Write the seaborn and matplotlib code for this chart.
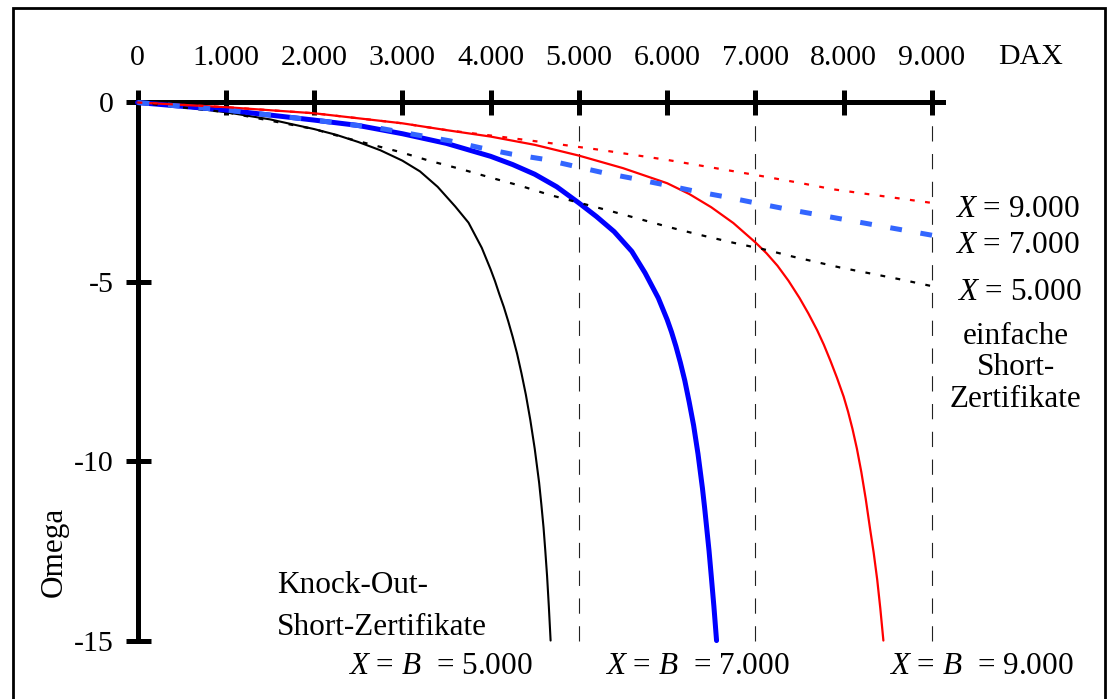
import numpy as np
import pandas as pd
import matplotlib
matplotlib.use("Agg")
import matplotlib.pyplot as plt
import seaborn as sns
from matplotlib.patches import Rectangle

# ---------------- data ----------------
# Knock-Out-Short-Zertifikate, X = B = 5.000 / 7.000 / 9.000
ko5_dax = [0, 500, 1000, 1500, 2000, 2250, 2500, 2750, 3000, 3200, 3400, 3600,
           3750, 3900, 4000, 4050, 4100, 4150, 4200, 4250, 4300, 4350, 4400,
           4450, 4500, 4550, 4575, 4600, 4620, 4640, 4660, 4680]
ko5_omega = [0, -0.12, -0.27, -0.47, -0.74, -0.90, -1.10, -1.33, -1.62, -1.92,
             -2.35, -2.90, -3.35, -4.05, -4.65, -4.98, -5.35, -5.70, -6.10,
             -6.53, -7.00, -7.55, -8.15, -8.85, -9.65, -10.6, -11.2, -11.85,
             -12.5, -13.2, -14.05, -15.0]

ko7_dax = [0, 1000, 2000, 2500, 3000, 3500, 4000, 4250, 4500, 4750, 5000, 5200,
           5400, 5600, 5750, 5900, 6000, 6050, 6100, 6150, 6200, 6250, 6300,
           6350, 6400, 6425, 6450, 6475, 6500, 6530, 6560]
ko7_omega = [0, -0.21, -0.49, -0.64, -0.87, -1.14, -1.50, -1.73, -2.00, -2.35,
             -2.80, -3.18, -3.60, -4.15, -4.75, -5.45, -6.05, -6.40, -6.80,
             -7.25, -7.75, -8.35, -9.00, -9.80, -10.75, -11.3, -11.9, -12.5,
             -13.2, -14.05, -15.0]

ko9_dax = [0, 1000, 2000, 3000, 3500, 4000, 4500, 5000, 5500, 6000, 6250, 6500,
           6750, 7000, 7125, 7250, 7375, 7500, 7600, 7700, 7775, 7850, 7925,
           8000, 8050, 8100, 8150, 8200, 8250, 8300, 8340, 8380, 8415, 8450]
ko9_omega = [0, -0.13, -0.30, -0.58, -0.77, -0.95, -1.18, -1.48, -1.83, -2.25,
             -2.55, -2.92, -3.36, -3.90, -4.20, -4.55, -4.97, -5.45, -5.88,
             -6.35, -6.75, -7.20, -7.68, -8.20, -8.62, -9.10, -9.65, -10.3,
             -11.05, -11.9, -12.55, -13.3, -14.1, -15.0]

# einfache Short-Zertifikate, X = 5.000 / 7.000 / 9.000
s5_dax = [0, 1000, 2000, 2300, 2975, 3315, 3655, 3995, 4335, 4675, 5350, 5690,
          6030, 6370, 6750, 7090, 7430, 7960, 8640, 9000]
s5_omega = [0, -0.27, -0.74, -0.95, -1.38, -1.63, -1.85, -2.09, -2.32, -2.58,
            -3.02, -3.25, -3.48, -3.69, -3.91, -4.09, -4.30, -4.60, -4.93, -5.12]

s7_dax = [0, 1000, 2000, 2750, 3540, 3880, 4240, 4600, 4940, 5280, 5620, 5980,
          6330, 6680, 7020, 7370, 9090]
s7_omega = [0, -0.21, -0.49, -0.72, -1.07, -1.26, -1.44, -1.58, -1.77, -1.96,
            -2.12, -2.30, -2.48, -2.64, -2.81, -2.98, -3.74]

s9_dax = [0, 1000, 2000, 3000, 3500, 4100, 4700, 5240, 6000, 7000, 7500, 7880, 9090]
s9_omega = [0, -0.13, -0.30, -0.58, -0.77, -0.95, -1.14, -1.32, -1.60, -2.02,
            -2.24, -2.42, -2.83]

dax_ticks = [0, 1000, 2000, 3000, 4000, 5000, 6000, 7000, 8000, 9000]
dax_labels = ["0", "1.000", "2.000", "3.000", "4.000", "5.000", "6.000",
              "7.000", "8.000", "9.000"]
omega_ticks = [0, -5, -10, -15]
omega_labels = ["0", "-5", "-10", "-15"]
strike_lines = [5000, 7000, 9000]

# ---------------- style ----------------
sns.set_theme(style="white")
plt.rcParams["font.family"] = ["Liberation Serif", "DejaVu Serif"]
plt.rcParams["mathtext.fontset"] = "custom"
plt.rcParams["mathtext.rm"] = "Liberation Serif"
plt.rcParams["mathtext.it"] = "Liberation Serif:italic"
plt.rcParams["axes.unicode_minus"] = False
plt.rcParams["lines.scale_dashes"] = False
for k in ["text.color", "axes.labelcolor", "xtick.color", "ytick.color"]:
    plt.rcParams[k] = "black"

W, H = 1114, 699
fig = plt.figure(figsize=(W / 100, H / 100), dpi=100)

# pixel geometry of the plotting frame
x0px, ppx = 137.5, 0.08827
y0py, ppy = 102.5, 35.87
xmin, xmax = -200, 9400
ymin, ymax = -15.5, 0.5
left = (x0px + xmin * ppx) / W
right = (x0px + xmax * ppx) / W
top = 1 - (y0py - ymax * ppy) / H
bottom = 1 - (y0py - ymin * ppy) / H
ax = fig.add_axes([left, bottom, right - left, top - bottom])
ax.set_xlim(xmin, xmax)
ax.set_ylim(ymin, ymax)
ax.set_facecolor("white")
ax.grid(False)

# vertical dashed lines at strike levels
ax.vlines(strike_lines, -15, -0.35, colors="#222222", linewidth=0.8,
          linestyles=[(0, (11, 9))], zorder=1)

def draw(xs, ys, color, lw, ls, z):
    df = pd.DataFrame({"DAX": xs, "Omega": ys})
    sns.lineplot(data=df, x="DAX", y="Omega", ax=ax, color=color, linewidth=lw,
                 linestyle=ls, estimator=None, sort=False, zorder=z, clip_on=False)

draw(ko5_dax, ko5_omega, "black", 1.5, "-", 3)
draw(ko7_dax, ko7_omega, "#0000ff", 3.6, "-", 3.1)
draw(ko9_dax, ko9_omega, "#ff0000", 1.6, "-", 3.2)
draw(s5_dax, s5_omega, "black", 1.6, (0, (3.5, 7.5)), 3.3)
draw(s7_dax, s7_omega, "#3366ff", 3.6, (0, (8.5, 13.5)), 3.4)
draw(s9_dax, s9_omega, "#ff0000", 1.6, (0, (3.5, 7.5)), 3.5)

# axes lines
for s in ["right", "bottom"]:
    ax.spines[s].set_visible(False)
ax.spines["top"].set_position(("data", 0))
ax.spines["top"].set_bounds(0, 9120)
ax.spines["left"].set_position(("data", 0))
ax.spines["left"].set_bounds(-15, 0)
for s in ["top", "left"]:
    ax.spines[s].set_linewidth(3.6)
    ax.spines[s].set_color("black")
    ax.spines[s].set_zorder(2.5)

ax.xaxis.set_ticks_position("top")
ax.set_xticks(dax_ticks)
ax.set_xticklabels(dax_labels)
ax.yaxis.set_ticks_position("left")
ax.set_yticks(omega_ticks)
ax.set_yticklabels(omega_labels)
ax.tick_params(axis="both", direction="inout", length=18, width=3.6,
               color="black", labelcolor="black", labelsize=21.5)
ax.tick_params(axis="x", pad=13.5)
ax.tick_params(axis="y", pad=8)
ax.set_xlabel("")
ax.set_ylabel("")

fs = 22.5
ax.text(10122, 0.905, "DAX", ha="center", va="bottom", fontsize=21.5, clip_on=False)
ax.text(-946, -12.53, "Omega", rotation=90, ha="center", va="center",
        fontsize=fs, clip_on=False)

ax.text(9260, -2.97, r"$X$ = 9.000", ha="left", va="center", fontsize=fs, clip_on=False)
ax.text(9260, -4.0, r"$X$ = 7.000", ha="left", va="center", fontsize=fs, clip_on=False)
ax.text(9280, -5.30, r"$X$ = 5.000", ha="left", va="center", fontsize=fs, clip_on=False)
ax.text(9951, -7.40, "einfache\nShort-\nZertifikate", ha="center", va="center",
        fontsize=fs, linespacing=1.12, clip_on=False)
ax.text(1580, -14.05, "Knock-Out-\nShort-Zertifikate", ha="left", va="center",
        fontsize=fs, linespacing=1.55, clip_on=False)

ax.text(2383, -15.72, r"$X$ = $B$  = 5.000", ha="left", va="center", fontsize=fs, clip_on=False)
ax.text(5292, -15.72, r"$X$ = $B$  = 7.000", ha="left", va="center", fontsize=fs, clip_on=False)
ax.text(8514, -15.72, r"$X$ = $B$  = 9.000", ha="left", va="center", fontsize=fs, clip_on=False)

# outer frame
fig.patches.append(Rectangle((13 / W, -0.05), (1105 - 13) / W, 1.05 - 8 / H,
                             transform=fig.transFigure, fill=False,
                             edgecolor="black", linewidth=2.0, zorder=10))

fig.savefig("out.png", dpi=100, facecolor="white")
